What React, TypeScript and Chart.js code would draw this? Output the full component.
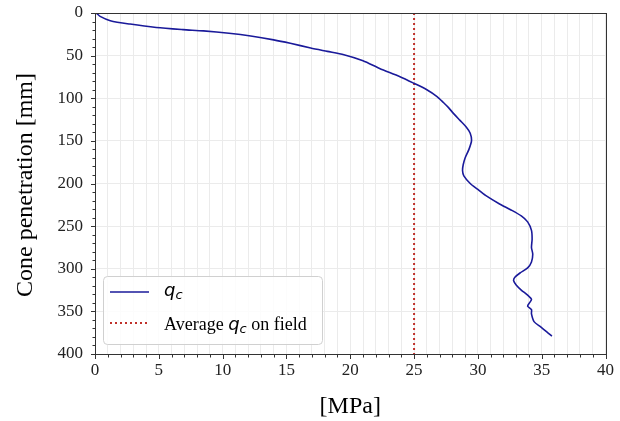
import React, { useEffect, useRef } from "react";
import { Chart, registerables } from "chart.js";

Chart.register(...registerables);

// Cone resistance q_c [MPa] vs cone penetration [mm]
const qcValues = [
  0, 0.1, 0.4, 1.2, 2.75, 4.8, 6.9, 8.5, 10.5, 12.2, 14.0, 15.3, 16.9, 18.2, 19.5,
  21.0, 22.3, 23.9, 25.0, 26.0, 26.8, 27.3, 27.7, 28.1, 28.6, 29.1, 29.4, 29.5,
  29.3, 29.0, 28.85, 28.8, 28.9, 29.4, 30.0, 30.6, 31.7, 32.6, 33.4, 33.9, 34.2,
  34.25, 34.2, 34.3, 34.2, 33.9, 33.3, 32.9, 32.8, 33.0, 33.4, 33.9, 34.2,
  34.0, 33.9, 34.2, 34.2, 34.4, 34.9, 35.4, 35.8,
];
const depthValues = [
  0, 0, 4, 9, 13, 17, 19.5, 21, 23.8, 27, 31.5, 35.5, 41, 45, 49,
  56, 65, 74.7, 82.5, 90, 98, 105, 111, 118, 126, 134, 141, 150,
  160, 170, 178, 185, 191, 200, 207, 214, 224, 231, 238, 245, 255,
  265, 275, 283, 292, 299, 305, 310, 314, 319, 325, 331, 336,
  341, 344, 348, 353, 362, 368, 374, 379,
];
const averageQc = 25;
const depthRange = [0, 400];

const xMin = 0;
const xMax = 40;
const xMajorStep = 5;
const yMajorStep = 50;

const xTitle = "[MPa]";
const yTitle = "Cone penetration [mm]";
const legendLabelQc = "q";
const legendLabelAvgPrefix = "Average ";
const legendLabelAvgSuffix = " on field";

const SERIF = "'Liberation Serif', 'Times New Roman', serif";
const MATH = "'DejaVu Sans', sans-serif";
const LINE_COLOR = "#1a1a9a";
const AVG_COLOR = "#c0302a";

const decorPlugin = {
  id: "decor",
  afterDraw(chart: any) {
    const { ctx, chartArea, scales } = chart;
    const xs = scales.x;
    const ys = scales.y;
    ctx.save();
    // frame
    ctx.strokeStyle = "#333333";
    ctx.lineWidth = 1;
    ctx.strokeRect(
      Math.round(chartArea.left) + 0.5,
      Math.round(chartArea.top) + 0.5,
      Math.round(chartArea.right - chartArea.left),
      Math.round(chartArea.bottom - chartArea.top)
    );
    // ticks
    ctx.beginPath();
    for (let v = xMin; v <= xMax; v += 1) {
      const px = Math.round(xs.getPixelForValue(v)) + 0.5;
      const len = v % xMajorStep === 0 ? 4.5 : 3;
      const b = Math.round(chartArea.bottom) + 0.5;
      ctx.moveTo(px, b);
      ctx.lineTo(px, b + len);
    }
    for (let v = depthRange[0]; v <= depthRange[1]; v += 10) {
      const py = Math.round(ys.getPixelForValue(v)) + 0.5;
      const len = v % yMajorStep === 0 ? 4.5 : 3;
      const l = Math.round(chartArea.left) + 0.5;
      ctx.moveTo(l, py);
      ctx.lineTo(l - len, py);
    }
    ctx.stroke();

    // axis titles
    ctx.fillStyle = "#000";
    ctx.font = `24px ${SERIF}`;
    ctx.textAlign = "center";
    ctx.textBaseline = "alphabetic";
    ctx.fillText(xTitle, (chartArea.left + chartArea.right) / 2, 413);
    ctx.save();
    ctx.translate(32, 185);
    ctx.rotate(-Math.PI / 2);
    ctx.fillText(yTitle, 0, 0);
    ctx.restore();

    // legend
    const lx = 103.5, ly = 276.5, lw = 219, lh = 68, r = 4;
    ctx.beginPath();
    ctx.moveTo(lx + r, ly);
    ctx.lineTo(lx + lw - r, ly);
    ctx.quadraticCurveTo(lx + lw, ly, lx + lw, ly + r);
    ctx.lineTo(lx + lw, ly + lh - r);
    ctx.quadraticCurveTo(lx + lw, ly + lh, lx + lw - r, ly + lh);
    ctx.lineTo(lx + r, ly + lh);
    ctx.quadraticCurveTo(lx, ly + lh, lx, ly + lh - r);
    ctx.lineTo(lx, ly + r);
    ctx.quadraticCurveTo(lx, ly, lx + r, ly);
    ctx.closePath();
    ctx.fillStyle = "rgba(255,255,255,0.85)";
    ctx.fill();
    ctx.strokeStyle = "#d0d0d0";
    ctx.lineWidth = 1;
    ctx.stroke();

    // row 1
    ctx.strokeStyle = LINE_COLOR;
    ctx.lineWidth = 1.6;
    ctx.beginPath();
    ctx.moveTo(110, 292);
    ctx.lineTo(149, 292);
    ctx.stroke();
    // row 2
    ctx.strokeStyle = AVG_COLOR;
    ctx.lineWidth = 2;
    ctx.setLineDash([2, 3]);
    ctx.beginPath();
    ctx.moveTo(110, 323);
    ctx.lineTo(149, 323);
    ctx.stroke();
    ctx.setLineDash([]);

    ctx.fillStyle = "#000";
    ctx.textAlign = "left";
    const drawQc = (x: number, base: number) => {
      ctx.font = `italic 18px ${MATH}`;
      ctx.fillText(legendLabelQc, x, base);
      const w = ctx.measureText(legendLabelQc).width;
      ctx.font = `italic 13px ${MATH}`;
      ctx.fillText("c", x + w, base + 3);
      return w + ctx.measureText("c").width;
    };
    drawQc(164, 296);
    let x = 164;
    ctx.font = `18px ${SERIF}`;
    ctx.fillText(legendLabelAvgPrefix, x, 330);
    x += ctx.measureText(legendLabelAvgPrefix).width;
    x += drawQc(x, 330);
    ctx.font = `18px ${SERIF}`;
    ctx.fillText(legendLabelAvgSuffix, x, 330);
    ctx.restore();
  },
};

export default function App() {
  const ref = useRef<HTMLCanvasElement | null>(null);
  useEffect(() => {
    document.body.style.margin = "0";
    const canvas = ref.current;
    if (!canvas) return;
    const chart = new Chart(canvas, {
      type: "scatter",
      data: {
        datasets: [
          {
            label: "qc",
            data: qcValues.map((v, i) => ({ x: v, y: depthValues[i] })),
            showLine: true,
            borderColor: LINE_COLOR,
            borderWidth: 1.6,
            pointRadius: 0,
            tension: 0.25,
          },
          {
            label: "avg",
            data: depthRange.map((d) => ({ x: averageQc, y: d })),
            showLine: true,
            borderColor: AVG_COLOR,
            borderWidth: 2,
            borderDash: [2, 3],
            pointRadius: 0,
          },
        ],
      },
      options: {
        animation: false,
        responsive: false,
        maintainAspectRatio: false,
        layout: { padding: { top: 13, right: 14.5, left: 0, bottom: 0 } },
        plugins: {
          legend: { display: false },
          tooltip: { enabled: false },
        },
        scales: {
          x: {
            type: "linear",
            min: xMin,
            max: xMax,
            afterFit: (s: any) => {
              s.height = 67;
              s.paddingLeft = 0;
              s.paddingRight = 0;
            },
            ticks: {
              stepSize: 1,
              autoSkip: false,
              maxRotation: 0,
              padding: 6,
              color: "#222",
              font: { family: SERIF, size: 17 },
              callback: (v: any) => (Number(v) % xMajorStep === 0 ? String(v) : ""),
            },
            grid: { color: "#ebebeb", drawTicks: false },
            border: { display: false },
          },
          y: {
            type: "linear",
            reverse: true,
            min: depthRange[0],
            max: depthRange[1],
            afterFit: (s: any) => {
              s.width = 95;
              s.paddingTop = 0;
              s.paddingBottom = 0;
            },
            ticks: {
              stepSize: 10,
              autoSkip: false,
              padding: 12,
              color: "#222",
              font: { family: SERIF, size: 17 },
              callback: (v: any) => (Number(v) % yMajorStep === 0 ? String(v) : ""),
            },
            grid: {
              drawTicks: false,
              color: (c: any) =>
                c.tick && c.tick.value % yMajorStep === 0 ? "#ebebeb" : "rgba(0,0,0,0)",
            },
            border: { display: false },
          },
        },
      },
      plugins: [decorPlugin],
    });
    return () => chart.destroy();
  }, []);
  return (
    <div style={{ width: 620, height: 421 }}>
      <canvas ref={ref} width={620} height={421} />
    </div>
  );
}
